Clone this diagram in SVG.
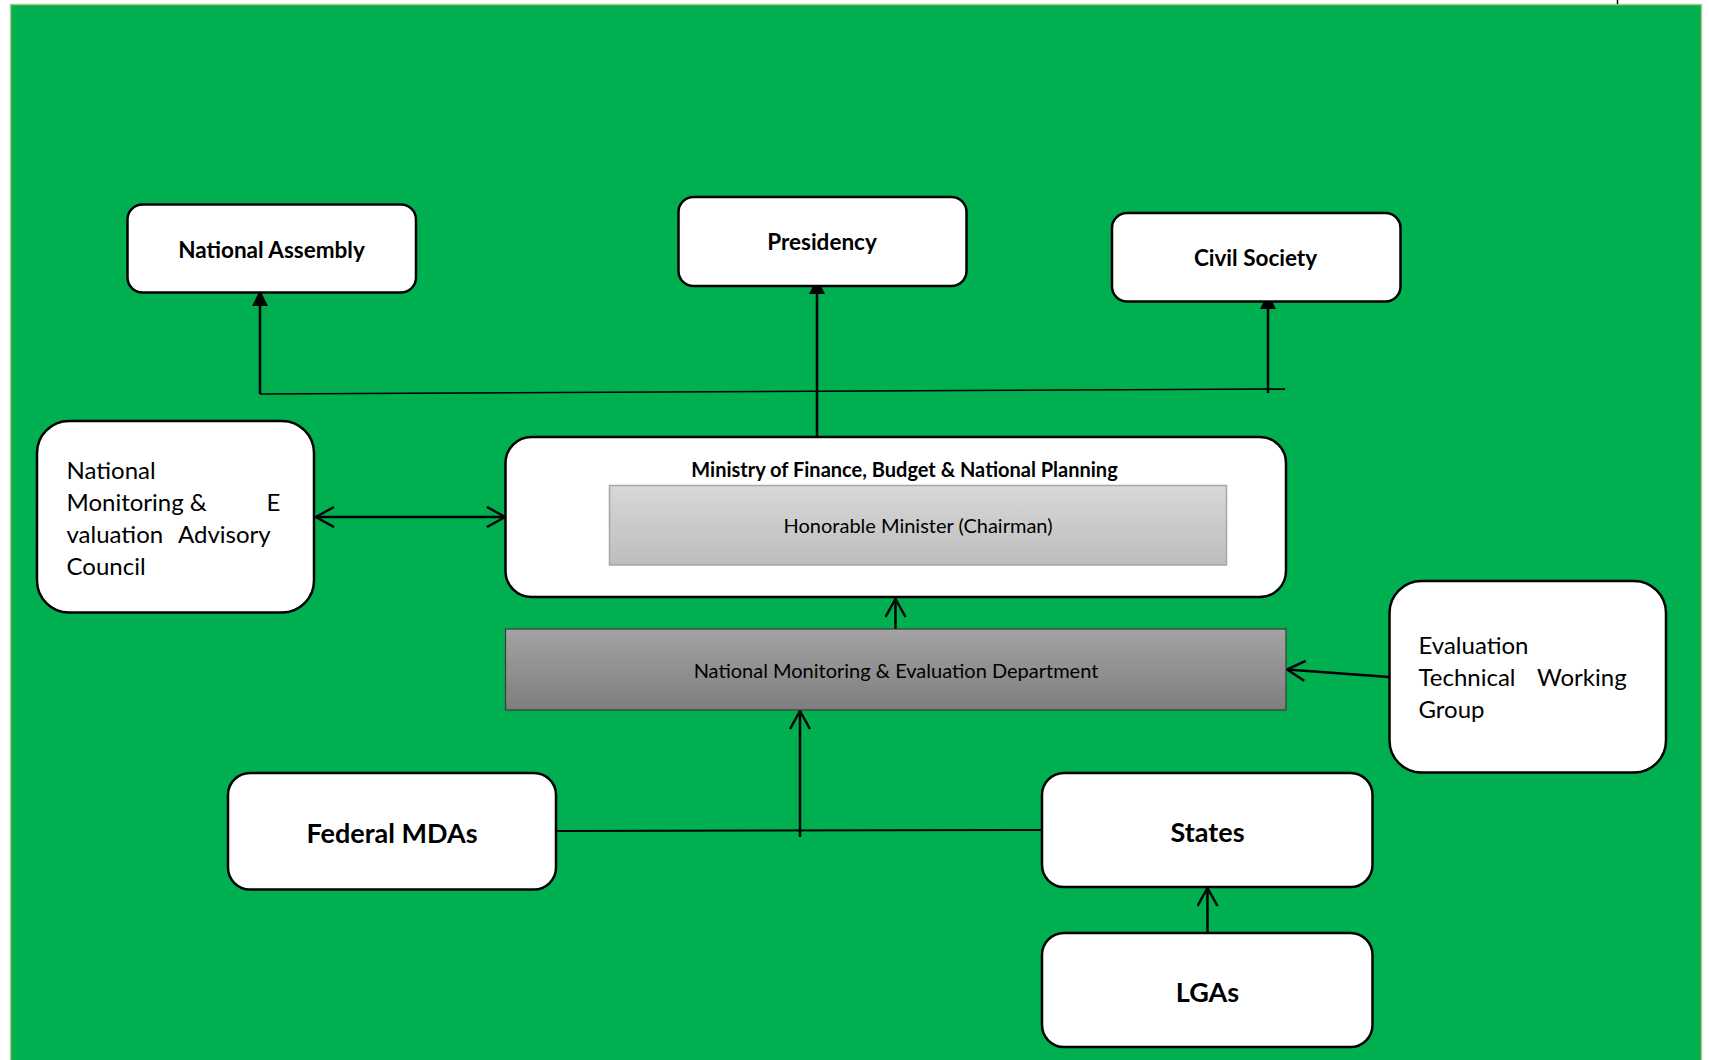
<svg xmlns="http://www.w3.org/2000/svg" width="1709" height="1060" viewBox="0 0 1709 1060">
<style>
.box{fill:#ffffff;stroke:#000000;stroke-width:2.5}
.lbl{font-family:Lato,"Open Sans","Liberation Sans",sans-serif;fill:#000000}
.b{font-weight:bold}
.c{text-anchor:middle}
.ln{stroke:#000000;fill:none}
</style>
<defs>
<marker id="tri" markerUnits="userSpaceOnUse" markerWidth="18" markerHeight="18" refX="16" refY="8" orient="auto">
<path d="M0,0 L16,8 L0,16 Z" fill="#000000"/>
</marker>
<marker id="open" markerUnits="userSpaceOnUse" markerWidth="22" markerHeight="24" refX="19" refY="11" orient="auto-start-reverse">
<path d="M1,1 L19,11 L1,21" fill="none" stroke="#000000" stroke-width="2.5"/>
</marker>
<linearGradient id="gLight" x1="0" y1="0" x2="0" y2="1">
<stop offset="0" stop-color="#d8d8d8"/>
<stop offset="1" stop-color="#bdbdbd"/>
</linearGradient>
<linearGradient id="gDark" x1="0" y1="0" x2="0" y2="1">
<stop offset="0" stop-color="#a3a3a3"/>
<stop offset="1" stop-color="#7e7e7e"/>
</linearGradient>
</defs>
<rect x="0" y="0" width="1709" height="1060" fill="#ffffff"/>
<rect x="10.5" y="4.5" width="1691" height="1060" fill="#00B050" stroke="#b3c585" stroke-width="1.5"/>
<line x1="1617.5" y1="0" x2="1617.5" y2="4" stroke="#000000" stroke-width="1.5"/>

<g id="connectors">
<path class="ln" d="M260,394 L1285,389" stroke-width="1.6"/>
<path class="ln" d="M260,394 L260,290" stroke-width="2.5" marker-end="url(#tri)"/>
<path class="ln" d="M817,437 L817,278" stroke-width="2.5" marker-end="url(#tri)"/>
<path class="ln" d="M1268,393 L1268,293" stroke-width="2.5" marker-end="url(#tri)"/>
<path class="ln" d="M316,517 L505,517" stroke-width="2.5" marker-start="url(#open)" marker-end="url(#open)"/>
<path class="ln" d="M895.5,629 L895.5,599" stroke-width="2.5" marker-end="url(#open)"/>
<path class="ln" d="M1389,677 L1287,669.5" stroke-width="2.5" marker-end="url(#open)"/>
<path class="ln" d="M556,831 L1042,830" stroke-width="2"/>
<path class="ln" d="M800,837 L800,711" stroke-width="2.5" marker-end="url(#open)"/>
<path class="ln" d="M1207.5,933 L1207.5,888" stroke-width="2.5" marker-end="url(#open)"/>
</g>

<g id="national-assembly">
<rect class="box" x="127.5" y="204.5" width="288.5" height="88" rx="15"/>
<text class="lbl b c" x="271.5" y="257.5" font-size="22.5">National Assembly</text>
</g>
<g id="presidency">
<rect class="box" x="678.5" y="197" width="288" height="89" rx="15"/>
<text class="lbl b c" x="822" y="250" font-size="22.5">Presidency</text>
</g>
<g id="civil-society">
<rect class="box" x="1112" y="213" width="288.5" height="88.5" rx="15"/>
<text class="lbl b c" x="1255.5" y="266" font-size="22.5">Civil Society</text>
</g>
<g id="advisory-council">
<rect class="box" x="37" y="421" width="277" height="191.5" rx="32"/>
<text class="lbl" font-size="24">
<tspan x="66.5" y="479">National</tspan>
<tspan x="66.5" y="511">Monitoring &amp;</tspan><tspan x="266.5" y="511">E</tspan>
<tspan x="66.5" y="543">valuation</tspan><tspan x="178" y="543">Advisory</tspan>
<tspan x="66.5" y="575">Council</tspan>
</text>
</g>
<g id="ministry">
<rect class="box" x="505.5" y="437" width="780.5" height="160" rx="26"/>
<text class="lbl b c" x="904.5" y="476.5" font-size="20">Ministry of Finance, Budget &amp; National Planning</text>
<rect x="609.5" y="485.5" width="617" height="79.5" fill="url(#gLight)" stroke="#a6a6a6" stroke-width="1.5"/>
<text class="lbl c" x="918" y="532.5" font-size="20">Honorable Minister (Chairman)</text>
</g>
<g id="nmed">
<rect x="505.5" y="629" width="780.5" height="81" fill="url(#gDark)" stroke="#3a3a3a" stroke-width="1.2"/>
<text class="lbl c" x="896" y="677.5" font-size="20">National Monitoring &amp; Evaluation Department</text>
</g>
<g id="etwg">
<rect class="box" x="1389.5" y="581" width="276.5" height="191.5" rx="32"/>
<text class="lbl" font-size="24">
<tspan x="1418.5" y="654">Evaluation</tspan>
<tspan x="1418.5" y="686">Technical</tspan><tspan x="1537" y="686">Working</tspan>
<tspan x="1418.5" y="718">Group</tspan>
</text>
</g>
<g id="federal-mdas">
<rect class="box" x="228" y="773" width="328" height="116.5" rx="22"/>
<text class="lbl b c" x="392" y="842.5" font-size="27">Federal MDAs</text>
</g>
<g id="states">
<rect class="box" x="1042" y="773" width="330.5" height="114" rx="22"/>
<text class="lbl b c" x="1207.5" y="841.5" font-size="27">States</text>
</g>
<g id="lgas">
<rect class="box" x="1042" y="933" width="330.5" height="114" rx="22"/>
<text class="lbl b c" x="1207.5" y="1001.5" font-size="27">LGAs</text>
</g>
</svg>
